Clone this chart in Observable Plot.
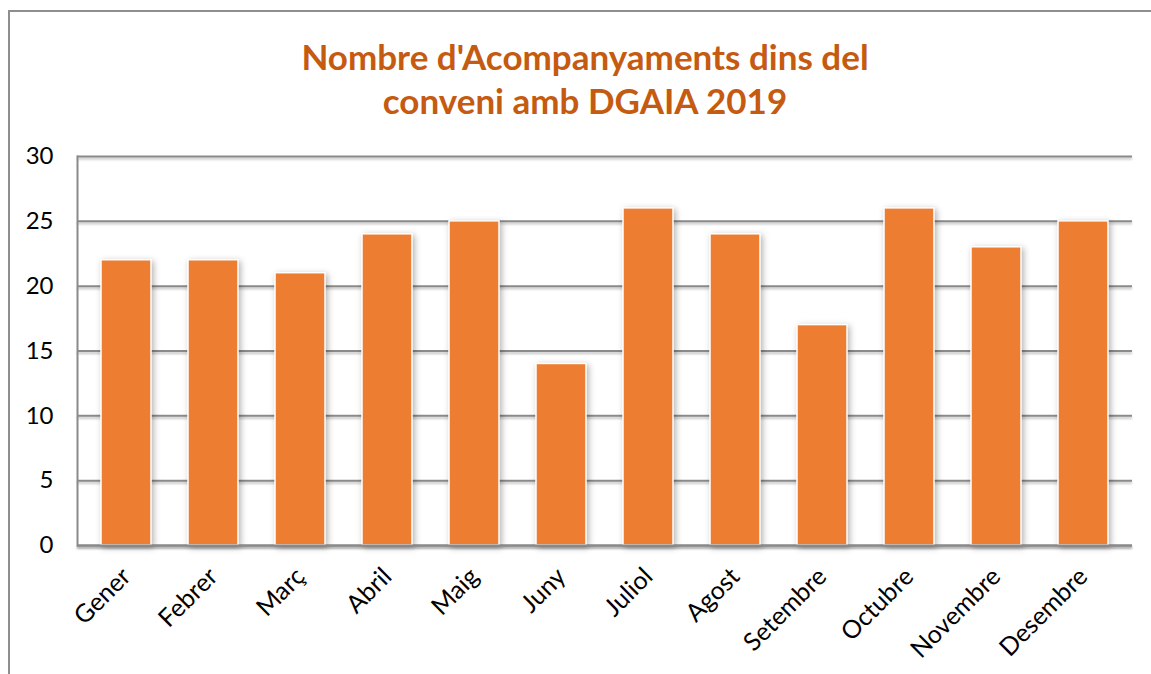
<!DOCTYPE html>
<html>
<head>
<meta charset="utf-8">
<script src="https://cdn.jsdelivr.net/npm/d3@7"></script>
<script src="https://cdn.jsdelivr.net/npm/@observablehq/plot@0.6"></script>
<style>
  html, body { margin: 0; padding: 0; background: #fff; overflow: hidden; }
  #wrap { position: relative; width: 1151px; height: 674px; }
  #border { position: absolute; left: 8px; top: 10px; width: 1200px; height: 700px; border: 2px solid #8e8e8e; box-sizing: border-box; }
  #title { position: absolute; left: 0; top: 34px; width: 1170px; text-align: center; font-family: Lato, "Open Sans", sans-serif; font-weight: bold; font-size: 35px; line-height: 44px; color: #C55A11; }
  #chart { position: absolute; left: 0; top: 0; }
  g[aria-label="bar"] rect { filter: drop-shadow(2px 2px 3px rgba(0,0,0,0.3)); }
  g[aria-label="y-grid"] line, g[aria-label="rule"] line, g[aria-label="frame"] { filter: drop-shadow(0px 2px 1px rgba(0,0,0,0.25)); }
</style>
</head>
<body>
<div id="wrap">
  <div id="border"></div>
  <div id="chart"></div>
  <div id="title">Nombre d'Acompanyaments dins del<br>conveni amb DGAIA 2019</div>
</div>
<script>
const months = ["Gener","Febrer","Març","Abril","Maig","Juny","Juliol","Agost","Setembre","Octubre","Novembre","Desembre"];
const values = [22,22,21,24,25,14,26,24,17,26,23,25];
const yTicks = [0,5,10,15,20,25,30];

const data = months.map((m, i) => ({month: m, value: values[i]}));

const chart = Plot.plot({
  width: 1151,
  height: 674,
  marginLeft: 77,
  marginRight: 19,
  marginTop: 156,
  marginBottom: 129,
  style: {fontFamily: "Lato, 'Open Sans', sans-serif", fontSize: "24px", color: "#000", background: "transparent"},
  x: {domain: months, paddingInner: 0.43, paddingOuter: 0.215, label: null},
  y: {domain: [0, 30], ticks: yTicks, label: null},
  marks: [
    Plot.gridY(yTicks, {stroke: "#8a8a8a", strokeOpacity: 1, strokeWidth: 2}),
    Plot.frame({anchor: "left", stroke: "#8a8a8a", strokeWidth: 2}),
    Plot.barY(data, {x: "month", y: "value", fill: "#ED7D31", stroke: "#fff", strokeWidth: 1.5}),
    Plot.ruleY([0], {stroke: "#8a8a8a", strokeWidth: 2}),
    Plot.axisY(yTicks, {tickSize: 0, tickPadding: 24, fontSize: 24, fill: "#000"}),
    Plot.axisX({tickSize: 0, tickPadding: 27, tickRotate: -45, fontSize: 25, fill: "#000"})
  ]
});
document.getElementById("chart").appendChild(chart);
</script>
</body>
</html>
